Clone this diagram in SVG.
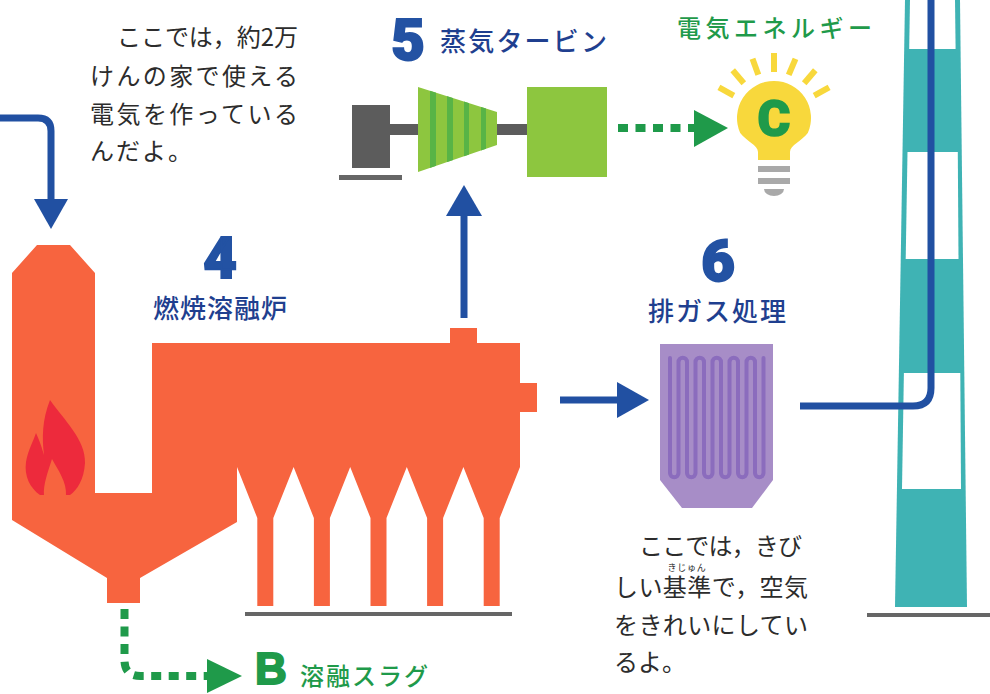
<svg xmlns="http://www.w3.org/2000/svg" width="990" height="694" viewBox="0 0 990 694">
  <defs>
    <style>
      .body { font-family: "Noto Sans CJK JP", "Noto Sans CJK SC", sans-serif; font-size: 24px; fill: #2c2c2c; }
      .ruby { font-family: "Noto Sans CJK JP", "Noto Sans CJK SC", sans-serif; font-size: 9px; fill: #2c2c2c; }
      .head { font-family: "Noto Sans CJK JP", "Noto Sans CJK SC", sans-serif; font-size: 26px; font-weight: 500; fill: #1f3f8f; }
      .headg { font-family: "Noto Sans CJK JP", "Noto Sans CJK SC", sans-serif; font-size: 24px; font-weight: 500; fill: #1f9a4a; }
      .num { font-family: Roboto, "Liberation Sans", Arial, sans-serif; font-weight: 900; font-size: 58px; fill: #2352a3; stroke: #2352a3; stroke-width: 2; }
      .numg { font-family: Roboto, "Liberation Sans", Arial, sans-serif; font-weight: 900; fill: #1f9a4a; stroke: #1f9a4a; stroke-width: 1.5; }
      .flow { fill: none; stroke: #2150a2; stroke-width: 7; }
      .flowhead { fill: #2150a2; }
      .dots { fill: none; stroke: #1f9a4a; stroke-width: 8; stroke-dasharray: 10 7.5; }
      .dothead { fill: #1f9a4a; }
      .ray { stroke: #f8d83c; stroke-width: 6; }
      .base { fill: #666; }
    </style>
    <clipPath id="coneClip">
      <polygon points="418,87 497,112 497,145 418,172"/>
    </clipPath>
  </defs>

  <rect width="990" height="694" fill="#ffffff"/>

  <!-- chimney -->
  <g id="chimney">
    <polygon points="905,0 960,0 967,607 895,607" fill="#3fb3b4"/>
    <polygon points="910,0 955,0 955.6,49 909.2,49" fill="#ffffff"/>
    <polygon points="907.5,152 957.8,152 958.5,259 905.7,259" fill="#ffffff"/>
    <polygon points="903.9,373 960.3,373 961,489 902,489" fill="#ffffff"/>
    <rect x="867" y="613" width="123" height="4" class="base"/>
  </g>

  <!-- combustion / melting furnace -->
  <g id="furnace">
    <polygon fill="#f7643f" points="37,245 70,245 95,273 95,493 152,493 152,343 450,343 450,328 477,328 477,343 520,343 520,383 537,383 537,412 520,412 520,467 499.7,518 499.7,606 483.7,606 483.7,518 463.4,467 443.1,518 443.1,606 427.1,606 427.1,518 406.8,467 386.5,518 386.5,606 370.5,606 370.5,518 350.2,467 329.9,518 329.9,606 313.9,606 313.9,518 293.6,467 273.3,518 273.3,606 257.3,606 257.3,518 237,467 237,522 140,578 140,603 107,603 107,578 12,520 12,273"/>
    <!-- flame mark -->
    <path fill="#ed2a3c" d="M50 400 C64 420 86 440 85 463 C84 480 77 490 70 495 L40 495 C30 488 24 476 26 462 C28 450 33 442 36 433 C40 442 42 448 44 455 C42 438 42 420 50 400 Z"/>
    <path fill="#f7643f" d="M44 496 C43 484 48 472 52 459 C58 470 67 482 66 496 Z"/>
    <rect x="245" y="612" width="267" height="4" class="base"/>
  </g>

  <!-- steam turbine -->
  <g id="turbine">
    <rect x="352" y="105" width="38" height="63" fill="#5c5c5c"/>
    <rect x="388" y="124" width="32" height="11" fill="#5c5c5c"/>
    <rect x="495" y="124" width="34" height="11" fill="#5c5c5c"/>
    <rect x="339" y="175" width="63" height="5" class="base"/>
    <polygon points="418,87 497,112 497,145 418,172" fill="#8dc63f"/>
    <g clip-path="url(#coneClip)" fill="#58b446">
      <rect x="430" y="80" width="6" height="100"/>
      <rect x="447" y="80" width="6" height="100"/>
      <rect x="464" y="80" width="5" height="100"/>
      <rect x="481" y="80" width="5" height="100"/>
    </g>
    <rect x="527" y="87" width="80" height="90" fill="#8dc63f"/>
  </g>

  <!-- light bulb -->
  <g id="bulb">
    <g class="ray">
      <line x1="774" y1="72" x2="774" y2="53"/>
      <line x1="758.3" y1="74.8" x2="752.5" y2="58.8"/>
      <line x1="788.7" y1="74.8" x2="795.5" y2="58.8"/>
      <line x1="743.8" y1="83.3" x2="732.7" y2="70.3"/>
      <line x1="804.2" y1="83.3" x2="815.3" y2="70.3"/>
      <line x1="733.8" y1="95.7" x2="718.9" y2="87.4"/>
      <line x1="814.2" y1="95.7" x2="829.1" y2="87.4"/>
    </g>
    <path fill="#f8d83c" d="M758 160 L758 152 C758 145 746 141 740.2 133 A37 37 0 1 1 807.8 133 C802 141 790 145 790 152 L790 160 Z"/>
    <rect x="758" y="166" width="32" height="6" fill="#a9a9a9"/>
    <rect x="758" y="178" width="32" height="6" fill="#a9a9a9"/>
    <path d="M764 189 H784 A10 7 0 0 1 764 189 Z" fill="#a9a9a9"/>
    <text x="774" y="136" text-anchor="middle" class="numg" font-size="50">C</text>
  </g>

  <!-- flue gas treatment -->
  <g id="gas-treatment">
    <polygon points="660,344 773,344 773,480 752,508 682,508 660,480" fill="#a78dc7"/>
    <path fill="none" stroke="#8b6cbd" stroke-width="4" stroke-linecap="round" d="M670 358 V473 A4.25 4.25 0 0 0 678.5 473 V362 A4.25 4.25 0 0 1 687 362 V473 A4.25 4.25 0 0 0 695.5 473 V362 A4.25 4.25 0 0 1 704 362 V473 A4.25 4.25 0 0 0 712.5 473 V362 A4.25 4.25 0 0 1 721 362 V473 A4.25 4.25 0 0 0 729.5 473 V362 A4.25 4.25 0 0 1 738 362 V473 A4.25 4.25 0 0 0 746.5 473 V362 A4.25 4.25 0 0 1 755 362 V473 A4.25 4.25 0 0 0 763.5 473 V358"/>
  </g>

  <!-- flows -->
  <g id="connectors">
    <path class="flow" d="M0 118 H38 Q51 118 51 131 V201"/>
    <polygon class="flowhead" points="34,199 68,199 51,229"/>
    <path class="flow" d="M464 318 V214"/>
    <polygon class="flowhead" points="446,216 482,216 464,185"/>
    <path class="flow" d="M560 400 H619"/>
    <polygon class="flowhead" points="617,382 617,418 649,400"/>
    <path class="flow" stroke="#2346a0" stroke-width="8" d="M800 406 H913 Q931 406 931 388 V0"/>
    <path class="dots" d="M618 128 H695"/>
    <polygon class="dothead" points="694,110 694,147 728,128"/>
    <path class="dots" stroke-width="7" d="M124.5 609 V660 Q124.5 676 140.5 676 H209"/>
    <polygon class="dothead" points="207,659 207,693 242,676"/>
  </g>

  <!-- labels -->
  <g id="label-furnace">
    <text x="220" y="278" text-anchor="middle" class="num">4</text>
    <text x="153" y="318" class="head" textLength="134">燃焼溶融炉</text>
  </g>
  <g id="label-turbine">
    <text x="408" y="60" text-anchor="middle" class="num">5</text>
    <text x="440" y="51" class="head" textLength="167">蒸気タービン</text>
  </g>
  <g id="label-power">
    <text x="677" y="37" class="headg" textLength="195">電気エネルギー</text>
  </g>
  <g id="label-gas">
    <text x="718" y="281" text-anchor="middle" class="num">6</text>
    <text x="648" y="321" class="head" textLength="138">排ガス処理</text>
  </g>
  <g id="label-slag">
    <text x="255" y="684" class="numg" font-size="44" font-family="'Liberation Sans', Arial, sans-serif" style="font-family: 'Liberation Sans', Arial, sans-serif; font-weight: 700; stroke-width: 2">B</text>
    <text x="300" y="685" class="headg" textLength="128">溶融スラグ</text>
  </g>

  <g id="note-power">
    <text x="117" y="46" class="body" textLength="181">ここでは，約2万</text>
    <text x="90" y="85" class="body" textLength="208">けんの家で使える</text>
    <text x="90" y="123" class="body" textLength="208">電気を作っている</text>
    <text x="90" y="160" class="body" letter-spacing="2">んだよ。</text>
  </g>
  <g id="note-gas">
    <text x="639" y="555" class="body" textLength="163">ここでは，きび</text>
    <text x="687" y="571" class="ruby" text-anchor="middle" letter-spacing="0.8">きじゅん</text>
    <text x="614" y="596" class="body" textLength="194">しい基準で，空気</text>
    <text x="614" y="634" class="body" textLength="194">をきれいにしてい</text>
    <text x="614" y="671" class="body">るよ。</text>
  </g>
</svg>
